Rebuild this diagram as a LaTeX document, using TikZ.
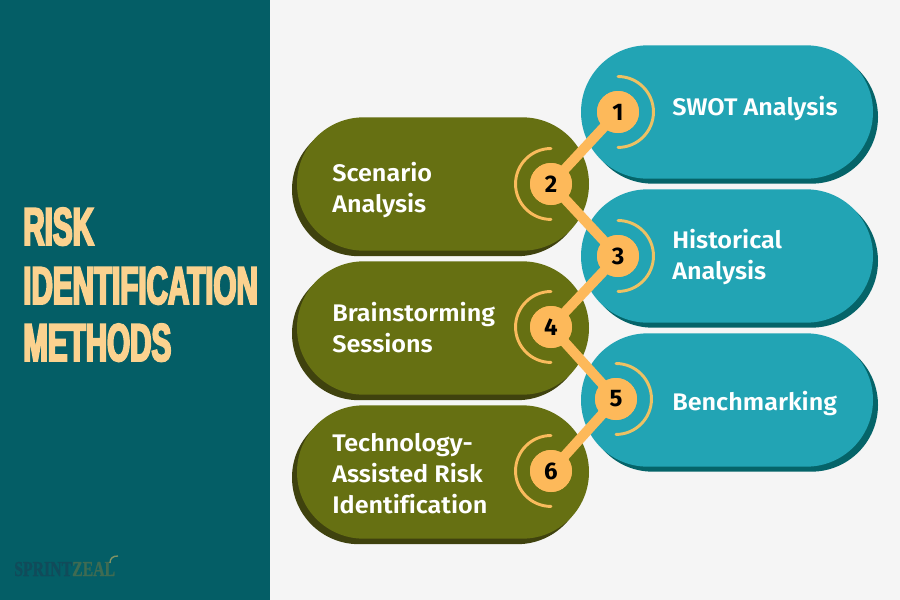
\documentclass[tikz,border=0pt]{standalone}
\usepackage{fontspec}
\setmainfont{Fira Sans SemiBold}[BoldFont={Fira Sans SemiBold},FakeStretch=1.05,Ligatures=NoCommon]
\newfontfamily\digitfont{Fira Sans Bold}
\newfontfamily\titlefont{Liberation Sans Bold}[FakeStretch=0.555,FakeBold=3.6]
\newfontfamily\logofont{Liberation Serif Bold}[FakeStretch=0.74,FakeBold=1]
\usetikzlibrary{shapes.misc,calc}
\definecolor{bgc}{HTML}{F5F5F5}
\definecolor{panelc}{HTML}{045E66}
\definecolor{tealc}{HTML}{22A4B4}
\definecolor{tealdk}{HTML}{056469}
\definecolor{olivec}{HTML}{667012}
\definecolor{olivedk}{HTML}{3F420E}
\definecolor{goldc}{HTML}{FDB95A}
\definecolor{arcc}{HTML}{EDC163}
\definecolor{titlec}{HTML}{FBD28F}
\definecolor{logoa}{HTML}{114B5A}
\definecolor{logob}{HTML}{3F6B52}
\tikzset{
  x=0.75pt,y=-0.75pt,
  pill/.style={rounded rectangle,rounded rectangle arc length=180,minimum width=219pt,minimum height=100pt,inner sep=0pt,draw=none},
  tealpill/.style={pill,fill=tealc},
  tealshadow/.style={pill,fill=tealdk},
  olivepill/.style={pill,fill=olivec},
  oliveshadow/.style={pill,fill=olivedk},
  numdot/.style={circle,fill=goldc,minimum size=31.5pt,inner sep=0pt,text=black,font=\fontsize{18}{18}\digitfont},
  link/.style={draw=goldc,line width=7.5pt},
  halo/.style={draw=arcc,line width=2.2pt},
  lbl/.style={anchor=base west,inner sep=0pt,text=white,font=\fontsize{18}{18}\selectfont},
  ttl/.style={anchor=base west,inner sep=0pt,text=titlec,font=\fontsize{40}{40}\titlefont},
}
\begin{document}
\begin{tikzpicture}
\useasboundingbox (0,0) rectangle (900,600);
\fill[bgc] (0,0) rectangle (900,600);
\fill[panelc] (0,0) rectangle (270,600);
% pills
\node[tealshadow] (s1) at (732,117) {};
\node[tealpill] (p1) at (727,112) {};
\node[tealshadow] (s3) at (732,261) {};
\node[tealpill] (p3) at (727,256) {};
\node[tealshadow] (s5) at (732,405) {};
\node[tealpill] (p5) at (727,400) {};
\node[oliveshadow] (s2) at (438,189.5) {};
\node[olivepill] (p2) at (443,184) {};
\node[oliveshadow] (s4) at (438,333.5) {};
\node[olivepill] (p4) at (443,328) {};
\node[oliveshadow] (s6) at (438,477.5) {};
\node[olivepill] (p6) at (443,472) {};
% numbered dots
\node[numdot] (n1) at (618,112) {};
\node[numdot] (n2) at (551,184) {};
\node[numdot] (n3) at (618,256) {};
\node[numdot] (n4) at (551,327) {};
\node[numdot] (n5) at (616,399) {};
\node[numdot] (n6) at (551,471) {};
% links
\draw[link] (n1.center) -- (n2.center);
\draw[link] (n2.center) -- (n3.center);
\draw[link] (n3.center) -- (n4.center);
\draw[link] (n4.center) -- (n5.center);
\draw[link] (n5.center) -- (n6.center);
% halos
\foreach \n in {n1,n3,n5}{
  \draw[halo,line cap=round] ($(\n)+(0,-35.5)$) arc[start angle=-90,end angle=90,x radius=26.6pt,y radius=-26.6pt];
}
\foreach \n in {n2,n4,n6}{
  \draw[halo,line cap=round,draw=goldc!80!arcc] ($(\n)+(0,-35.5)$) arc[start angle=-90,end angle=-270,x radius=26.6pt,y radius=-26.6pt];
}
\node[numdot] at (n1) {1};
\node[numdot] at (n2) {2};
\node[numdot] at (n3) {3};
\node[numdot] at (n4) {4};
\node[numdot] at (n5) {5};
\node[numdot] at (n6) {6};
% labels
\node[lbl] (t1) at (672,115.5) {SWOT Analysis};
\node[lbl] (t2a) at (332,181) {Scenario};
\node[lbl] (t2b) at (332,212) {Analysis};
\node[lbl] (t3a) at (672,248.5) {Historical};
\node[lbl] (t3b) at (672,279.5) {Analysis};
\node[lbl] (t4a) at (332,321) {Brainstorming};
\node[lbl] (t4b) at (332,352) {Sessions};
\node[lbl] (t5) at (672,410.5) {Benchmarking};
\node[lbl] (t6a) at (332,451) {Technology-};
\node[lbl] (t6b) at (332,482) {Assisted Risk};
\node[lbl] (t6c) at (332,513) {Identification};
% title
\node[ttl] (h1) at (23,245) {RISK};
\node[ttl] (h2) at (23,304) {IDENTIFICATION};
\node[ttl] (h3) at (23,361) {METHODS};
% logo
\node[anchor=base west,inner sep=0pt,font=\fontsize{16}{16}\logofont] (logo) at (14,576) {\textcolor{logoa}{SPRINT}\textcolor{logob}{ZEAL}};
\draw[draw=arcc!55!panelc,line width=1pt] (110,563) .. controls (110,558) and (113,556) .. (118,556);
\end{tikzpicture}
\end{document}
